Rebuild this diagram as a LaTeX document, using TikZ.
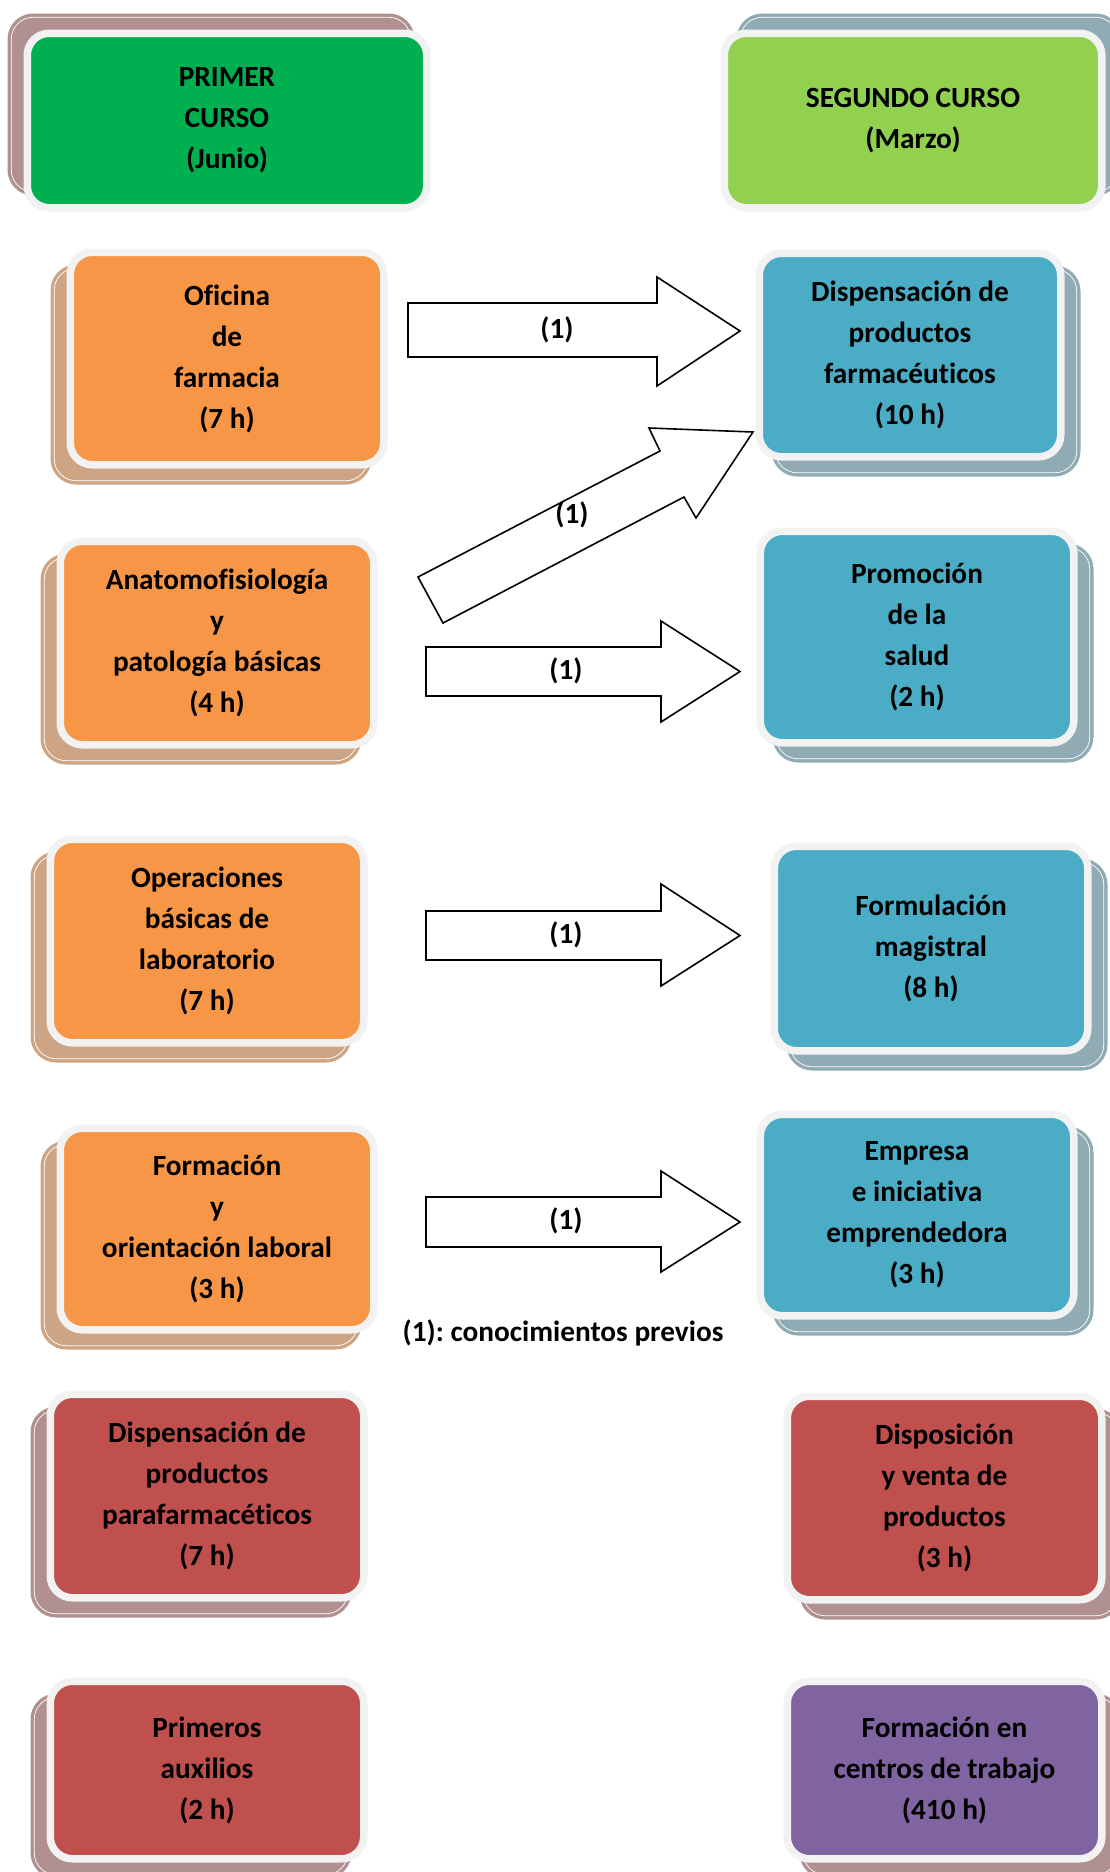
\documentclass[tikz,border=0pt]{standalone}
\usepackage{fontspec}
\setmainfont{Carlito}[Ligatures=NoCommon]
\frenchspacing
\usetikzlibrary{shadows}
\definecolor{bord}{HTML}{F2F2F2}
\definecolor{cgreen}{HTML}{00B050}
\definecolor{clgreen}{HTML}{92D050}
\definecolor{corange}{HTML}{F79646}
\definecolor{cblue}{HTML}{4BACC6}
\definecolor{cred}{HTML}{C0504D}
\definecolor{cpurple}{HTML}{8064A2}
\definecolor{shmauve}{HTML}{B09090}
\definecolor{shtan}{HTML}{CDA584}
\definecolor{shblue}{HTML}{90ABB3}
\tikzset{
  cbox/.style n args={2}{rectangle, rounded corners=22pt, draw=bord, line width=7.5pt,
    inner sep=0pt, align=center, fill=#1,
    minimum width=#2+7.5pt,
    font=\bfseries\fontsize{29.3}{41}\selectfont},
  cdim/.style={minimum height=#1+7.5pt},
  shd/.style n args={3}{general shadow={fill=#1, draw=#1, double=white,
    double distance=0.7pt, line width=3.4pt, shadow xshift=#2, shadow yshift=#3}},
  barrow/.style={draw=black, fill=white, line width=1.6pt, line join=miter},
  lbl/.style={font=\bfseries\fontsize{29.3}{41}\selectfont, inner sep=0pt},
}
\begin{document}
\begin{tikzpicture}[x=1pt,y=-1pt]
\useasboundingbox (0,0) rectangle (1110,1872);
\fill[white] (0,0) rectangle (1110,1872);

% headers
\node[cbox={cgreen}{392pt}, cdim=167pt, shd={shmauve}{-16pt}{16pt}] (p1) at (227,120.5) {PRIMER\\CURSO\\(Junio)};
\node[cbox={clgreen}{370pt}, cdim=167pt, shd={shblue}{16pt}{16pt}] (s1) at (913,120.5) {SEGUNDO CURSO\\(Marzo)};

% first course
\node[cbox={corange}{306pt}, cdim=205pt, shd={shtan}{-16pt}{-16pt}] (b1) at (227,358.5) {Oficina\\de\\farmacia\\(7 h)};
\node[cbox={corange}{306pt}, cdim=196pt, shd={shtan}{-16pt}{-16pt}] (b2) at (217,643) {Anatomofisiología\\y\\patología básicas\\(4 h)};
\node[cbox={corange}{306pt}, cdim=196pt, shd={shtan}{-16pt}{-16pt}] (b3) at (207,941) {Operaciones\\básicas de\\laboratorio\\(7 h)};
\node[cbox={corange}{306pt}, cdim=194pt, shd={shtan}{-16pt}{-16pt}] (b4) at (217,1229) {Formación\\y\\orientación laboral\\(3 h)};
\node[cbox={cred}{306pt}, cdim=196pt, shd={shmauve}{-16pt}{-16pt}] (b5) at (207,1496) {Dispensación de\\productos\\parafarmacéticos\\(7 h)};
\node[cbox={cred}{306pt}, cdim=170pt, shd={shmauve}{-16pt}{-16pt}] (b6) at (207,1770) {Primeros\\auxilios\\(2 h)};

% second course
\node[cbox={cblue}{294pt}, cdim=196pt, shd={shblue}{16pt}{-16pt}] (c1) at (910,355) {Dispensación de\\productos\\farmacéuticos\\(10 h)};
\node[cbox={cblue}{306pt}, cdim=204pt, shd={shblue}{16pt}{-16pt}] (c2) at (917,637) {Promoción\\de la\\salud\\(2 h)};
\node[cbox={cblue}{306pt}, cdim=197pt, shd={shblue}{16pt}{-16pt}] (c3) at (931,948.5) {Formulación\\magistral\\(8 h)};
\node[cbox={cblue}{306pt}, cdim=194pt, shd={shblue}{16pt}{-16pt}] (c4) at (917,1215) {Empresa\\e iniciativa\\emprendedora\\(3 h)};
\node[cbox={cred}{307pt}, cdim=196pt, shd={shmauve}{16pt}{-16pt}] (c5) at (944.5,1498) {Disposición\\y venta de\\productos\\(3 h)};
\node[cbox={cpurple}{307pt}, cdim=170pt, shd={shmauve}{16pt}{-16pt}] (c6) at (944.5,1770) {Formación en\\centros de trabajo\\(410 h)};

% block arrows
\draw[barrow] (408,303) -- (657,303) -- (657,277) -- (740,331) -- (657,386) -- (657,357) -- (408,357) -- cycle;
\draw[barrow] (418,577) -- (660,451) -- (649,428) -- (753,432) -- (696,518) -- (684,497) -- (443,623) -- cycle;
\draw[barrow] (426,647) -- (661,647) -- (661,621) -- (740,671.5) -- (661,722) -- (661,696) -- (426,696) -- cycle;
\draw[barrow] (426,911) -- (661,911) -- (661,884) -- (740,935.5) -- (661,986) -- (661,960) -- (426,960) -- cycle;
\draw[barrow] (426,1197) -- (661,1197) -- (661,1171) -- (740,1222) -- (661,1272) -- (661,1247) -- (426,1247) -- cycle;

\node[lbl] (l1) at (557,330) {(1)};
\node[lbl] (l2) at (572,515) {(1)};
\node[lbl] (l3) at (566,671) {(1)};
\node[lbl] (l4) at (566,935) {(1)};
\node[lbl] (l5) at (566,1221) {(1)};
\node[lbl] (fn) at (563,1333) {(1): conocimientos previos};
\end{tikzpicture}
\end{document}
